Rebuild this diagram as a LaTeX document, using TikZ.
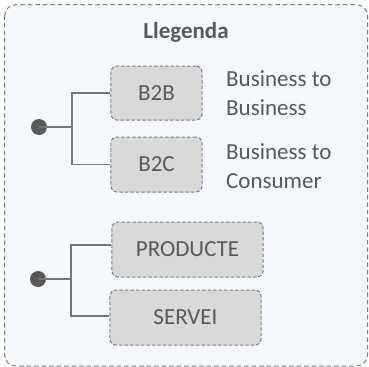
\documentclass[tikz,border=0pt]{standalone}
\usepackage{fontspec}
\setmainfont{Carlito}
\definecolor{bgc}{HTML}{F5F8FC}
\definecolor{framec}{HTML}{7F7F7F}
\definecolor{boxc}{HTML}{D9D9D9}
\definecolor{txtc}{HTML}{595959}
\definecolor{linec}{HTML}{767676}
\tikzset{
  legbox/.style={draw=framec, fill=boxc, line width=1bp, dash pattern=on 3.5bp off 2bp, rounded corners=6bp, inner sep=0, text=txtc, font=\fontsize{23bp}{28bp}\selectfont},
  desc/.style={anchor=west, inner sep=0, align=left, text=txtc, font=\fontsize{23bp}{29bp}\selectfont},
  conn/.style={draw=linec, line width=1.5bp},
  dotc/.style={circle, fill=txtc, inner sep=0, minimum size=16bp}
}
\begin{document}
\begin{tikzpicture}[x=1bp,y=-1bp]
\useasboundingbox (0,0) rectangle (369,367);
\draw[draw=framec, fill=bgc, line width=1bp, dash pattern=on 4.5bp off 3bp, rounded corners=11bp] (4.7,4.7) rectangle (367.5,366);
\node[text=txtc, font=\fontsize{23bp}{28bp}\selectfont\bfseries] (title) at (186,32) {Llegenda};
% group 1
\node[legbox, minimum width=91bp, minimum height=54bp] (b2b) at (156.5,93) {B2B};
\node[legbox, minimum width=91bp, minimum height=55bp] (b2c) at (156.5,164.5) {B2C};
\node[desc] (d1) at (226,93.5) {Business to\\Business};
\node[desc] (d2) at (226,166) {Business to\\Consumer};
\node[dotc] (dot1) at (39,127) {};
\coordinate (j1) at (72,127);
\draw[conn] (dot1.center) -- (j1);
\draw[conn] (j1) |- (b2b.west);
\draw[conn] (j1) |- (b2c.west);
% group 2
\node[legbox, minimum width=151bp, minimum height=55bp] (prod) at (187.5,249.5) {PRODUCTE};
\node[legbox, minimum width=151bp, minimum height=55bp] (serv) at (185.5,317.5) {SERVEI};
\node[dotc] (dot2) at (38,279) {};
\coordinate (j2) at (71,279);
\draw[conn] (dot2.center) -- (j2);
\draw[conn] (j2) |- ([yshift=4.5bp]prod.west);
\draw[conn] (j2) |- ([yshift=1.5bp]serv.west);
\end{tikzpicture}
\end{document}
